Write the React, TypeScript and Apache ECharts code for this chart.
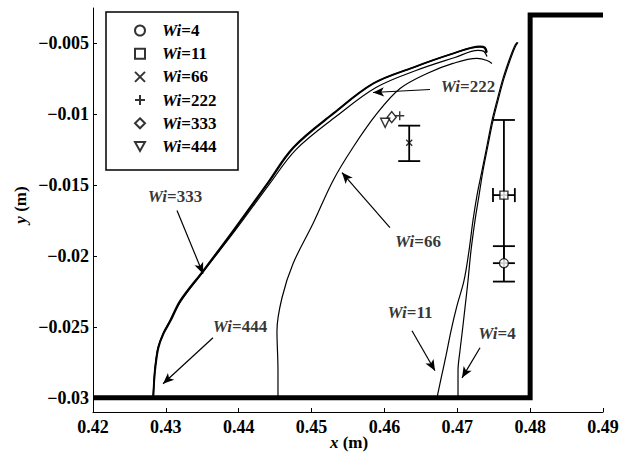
import { useEffect, useRef } from "react";
import * as echarts from "echarts";

const FONT = "Liberation Serif";
const FS = 17;
const TICK_FS = 18;
const FW = "bold";

// Interface profiles, [x (m), y (m)]
const wi444Curve = [
  [0.42824, -0.03], [0.42837, -0.0288], [0.42851, -0.02788], [0.42892, -0.02647],
  [0.42961, -0.02548], [0.43057, -0.02456], [0.43194, -0.02315], [0.4351, -0.02103],
  [0.43921, -0.01821], [0.44388, -0.01489], [0.44745, -0.01234], [0.45294, -0.00994],
  [0.45843, -0.00782], [0.46392, -0.00669], [0.46941, -0.00571], [0.47312, -0.00521],
  [0.4738, -0.00528], [0.47408, -0.00564],
];
const wi333Curve = [
  [0.4283, -0.03], [0.42842, -0.0288], [0.42858, -0.02788], [0.429, -0.02647],
  [0.4297, -0.02548], [0.43068, -0.02456], [0.43206, -0.02315], [0.43522, -0.02103],
  [0.43934, -0.01821], [0.444, -0.01489], [0.44758, -0.01234], [0.45306, -0.00994],
  [0.45855, -0.00782], [0.464, -0.00669], [0.46945, -0.00571], [0.4731, -0.00524],
  [0.47372, -0.00532], [0.47398, -0.00566],
];
const wi222Curve = [
  [0.42824, -0.03], [0.42837, -0.0288], [0.42851, -0.02788], [0.42892, -0.02647],
  [0.42961, -0.02548], [0.43057, -0.02456], [0.43208, -0.02315], [0.43523, -0.02103],
  [0.43949, -0.01821], [0.44416, -0.01496], [0.44786, -0.01249], [0.45335, -0.01016],
  [0.45884, -0.00811], [0.46433, -0.00691], [0.46968, -0.00599], [0.47284, -0.00549],
  [0.47366, -0.00556], [0.47408, -0.00592],
];
const wi66Curve = [
  [0.44539, -0.03], [0.44539, -0.02809], [0.44525, -0.02527], [0.44594, -0.02294],
  [0.44745, -0.02054], [0.4502, -0.01771], [0.45294, -0.01468], [0.45568, -0.01234],
  [0.45898, -0.00994], [0.46214, -0.00818], [0.46584, -0.00712], [0.46941, -0.00641],
  [0.4727, -0.00606], [0.47408, -0.0062], [0.47476, -0.00641],
];
const wi11Curve = [
  [0.46721, -0.03], [0.46776, -0.02866], [0.46845, -0.02703], [0.46914, -0.02527],
  [0.46996, -0.0235], [0.47092, -0.02174], [0.47161, -0.01962], [0.47215, -0.0175],
  [0.4727, -0.01573], [0.47339, -0.01397], [0.47408, -0.0122], [0.47476, -0.01044],
  [0.47545, -0.00903], [0.47627, -0.00747], [0.47709, -0.0062], [0.47778, -0.00528],
  [0.47819, -0.00493],
];
const wi4Curve = [
  [0.4701, -0.03], [0.4701, -0.02809], [0.47037, -0.02668], [0.47065, -0.02548],
  [0.47106, -0.02364], [0.47147, -0.02174], [0.47188, -0.01962], [0.47243, -0.0175],
  [0.47298, -0.01573], [0.47353, -0.01397], [0.47421, -0.0122], [0.4749, -0.01044],
  [0.47559, -0.00903], [0.47641, -0.00747], [0.47723, -0.0062], [0.47792, -0.00528],
  [0.47833, -0.00493],
];

// Channel floor and step wall
const wallOutline = [[0.42, -0.03], [0.48, -0.03], [0.48, -0.003], [0.49, -0.003]];

// Measured positions with error bounds
const pointNames = ["Wi=4", "Wi=11", "Wi=66", "Wi=222", "Wi=333", "Wi=444"];
const pointX = [0.4764, 0.4764, 0.4634, 0.4621, 0.461, 0.4601];
const pointY = [-0.0205, -0.0157, -0.012, -0.0101, -0.0102, -0.0106];
const yErrLow = [-0.0218, -0.0205, -0.0133, null, null, null];
const yErrHigh = [-0.0193, -0.0104, -0.0108, null, null, null];
const xErrLow = [null, 0.4749, null, null, null, null];
const xErrHigh = [null, 0.4779, null, null, null, null];

// Curve annotations
const noteLabels = ["Wi=222", "Wi=66", "Wi=333", "Wi=444", "Wi=11", "Wi=4"];
const noteText = [
  [0.47147, -0.00804], [0.46461, -0.01898], [0.43125, -0.01581],
  [0.44018, -0.02499], [0.46351, -0.024], [0.47545, -0.02548],
];
const arrowFrom = [
  [0.46625, -0.00825], [0.46076, -0.01799], [0.43153, -0.01679],
  [0.43647, -0.02576], [0.46378, -0.02527], [0.47312, -0.02647],
];
const arrowTo = [
  [0.45843, -0.00846], [0.45417, -0.01411], [0.4351, -0.02124],
  [0.42961, -0.02901], [0.46694, -0.02809], [0.47065, -0.02859],
];

const yTicks = [-0.03, -0.025, -0.02, -0.015, -0.01, -0.005];

const symbols = [
  "circle",
  "rect",
  "path://M0,0L10,10M10,0L0,10",
  "path://M5,0L5,10M0,5L10,5",
  "diamond",
  "path://M0,0L10,0L5,9Z",
];
const symbolSizes: any[] = [9, 8, 6, 9, [9, 11], 9];

const rich = {
  i: { fontFamily: FONT, fontSize: FS, fontWeight: FW, fontStyle: "italic", color: "#000", lineHeight: 17 },
  r: { fontFamily: FONT, fontSize: FS, fontWeight: FW, color: "#000", lineHeight: 17 },
};
const wiText = (name: string) => `{i|Wi}{r|=${name.split("=")[1]}}`;

export default function App() {
  const ref = useRef<HTMLDivElement>(null);

  useEffect(() => {
    if (!ref.current) return;
    const chart = echarts.init(ref.current, undefined, { renderer: "svg" });

    const curveSeries = [
      { name: "curve444", data: wi444Curve, width: 1.6 },
      { name: "curve333", data: wi333Curve, width: 1.6 },
      { name: "curve222", data: wi222Curve, width: 1.2 },
      { name: "curve66", data: wi66Curve, width: 1.2 },
      { name: "curve11", data: wi11Curve, width: 1.2 },
      { name: "curve4", data: wi4Curve, width: 1.2 },
    ].map((c) => ({
      type: "line",
      name: c.name,
      data: c.data,
      showSymbol: false,
      symbol: "none",
      smooth: 0.35,
      lineStyle: { color: "#000", width: c.width },
      silent: true,
      z: 3,
    }));

    const pointSeries = pointNames.map((name, i) => ({
      type: "scatter",
      name,
      data: [[pointX[i], pointY[i]]],
      symbol: symbols[i],
      symbolSize: symbolSizes[i],
      itemStyle: { color: "#fff", borderColor: "#000", borderWidth: 1.4 },
      silent: true,
      z: 6,
    }));

    const yErrData = pointNames
      .map((_, i) => [pointX[i], yErrLow[i], yErrHigh[i]])
      .filter((d) => d[1] !== null);
    const xErrData = pointNames
      .map((_, i) => [pointY[i], xErrLow[i], xErrHigh[i]])
      .filter((d) => d[1] !== null);

    const barStyle = { stroke: "#000", lineWidth: 1.8 };

    const option: any = {
      animation: false,
      backgroundColor: "#fff",
      textStyle: { fontFamily: FONT },
      grid: { left: 93, right: 21, top: 8, bottom: 41 },
      xAxis: {
        type: "value",
        min: 0.42,
        max: 0.49,
        interval: 0.01,
        axisLine: { show: true, lineStyle: { color: "#000", width: 1 } },
        axisTick: { show: true, inside: true, length: 4, lineStyle: { color: "#000" } },
        axisLabel: {
          color: "#000",
          fontFamily: FONT,
          fontSize: TICK_FS,
          fontWeight: FW,
          margin: 6,
          formatter: (v: number) => v.toFixed(2),
        },
        splitLine: { show: false },
      },
      yAxis: {
        type: "value",
        min: -0.031,
        max: -0.0025,
        axisLine: { show: true, lineStyle: { color: "#000", width: 1 } },
        axisTick: {
          show: true,
          inside: true,
          length: 4,
          customValues: yTicks,
          lineStyle: { color: "#000" },
        },
        axisLabel: {
          color: "#000",
          fontFamily: FONT,
          fontSize: TICK_FS,
          fontWeight: FW,
          margin: 4,
          customValues: yTicks,
          formatter: (v: number) => String(v).replace("-", "\u2212"),
        },
        splitLine: { show: false },
      },
      legend: {
        data: pointNames,
        orient: "vertical",
        left: 134,
        top: 22,
        itemWidth: 10,
        itemHeight: 10,
        itemGap: 6.2,
        padding: 0,
        selectedMode: false,
        formatter: wiText,
        textStyle: {
          fontFamily: FONT,
          fontSize: FS,
          lineHeight: 17,
          color: "#000",
          padding: [0, 0, 0, 12],
          rich,
        },
      },
      graphic: [
        {
          type: "rect",
          shape: { x: 106, y: 12, width: 132, height: 158 },
          style: { fill: "none", stroke: "#000", lineWidth: 1.5 },
          z: 10,
        },
        {
          type: "text",
          x: 349,
          y: 442,
          style: {
            text: "{i|x}{r| (m)}",
            rich,
            align: "center",
            verticalAlign: "middle",
          },
        },
        {
          type: "text",
          x: 20,
          y: 205,
          rotation: Math.PI / 2,
          style: {
            text: "{i|y}{r| (m)}",
            rich,
            align: "center",
            verticalAlign: "middle",
          },
        },
      ],
      series: [
        ...curveSeries,
        {
          type: "line",
          name: "wall",
          data: wallOutline,
          showSymbol: false,
          symbol: "none",
          lineStyle: { color: "#000", width: 5, join: "miter" },
          silent: true,
          z: 4,
        },
        {
          type: "custom",
          name: "yerr",
          data: yErrData,
          encode: { x: 0, y: [1, 2] },
          silent: true,
          z: 5,
          renderItem: (_p: any, api: any) => {
            const x = api.value(0);
            const lo = api.coord([x, api.value(1)]);
            const hi = api.coord([x, api.value(2)]);
            const cap = 11;
            return {
              type: "group",
              children: [
                { type: "line", shape: { x1: lo[0], y1: lo[1], x2: hi[0], y2: hi[1] }, style: barStyle },
                { type: "line", shape: { x1: lo[0] - cap, y1: lo[1], x2: lo[0] + cap, y2: lo[1] }, style: barStyle },
                { type: "line", shape: { x1: hi[0] - cap, y1: hi[1], x2: hi[0] + cap, y2: hi[1] }, style: barStyle },
              ],
            };
          },
        },
        {
          type: "custom",
          name: "xerr",
          data: xErrData,
          encode: { y: 0, x: [1, 2] },
          silent: true,
          z: 5,
          renderItem: (_p: any, api: any) => {
            const y = api.value(0);
            const lo = api.coord([api.value(1), y]);
            const hi = api.coord([api.value(2), y]);
            const cap = 7;
            return {
              type: "group",
              children: [
                { type: "line", shape: { x1: lo[0], y1: lo[1], x2: hi[0], y2: hi[1] }, style: barStyle },
                { type: "line", shape: { x1: lo[0], y1: lo[1] - cap, x2: lo[0], y2: lo[1] + cap }, style: barStyle },
                { type: "line", shape: { x1: hi[0], y1: hi[1] - cap, x2: hi[0], y2: hi[1] + cap }, style: barStyle },
              ],
            };
          },
        },
        ...pointSeries,
        {
          type: "scatter",
          name: "notes",
          data: noteLabels.map((n, i) => ({ name: n, value: noteText[i] })),
          symbolSize: 1,
          itemStyle: { color: "rgba(0,0,0,0)" },
          silent: true,
          z: 7,
          label: {
            show: true,
            position: "inside",
            color: "#000",
            formatter: (p: any) => wiText(p.name),
            rich,
          },
          markLine: {
            silent: true,
            symbol: ["none", "arrow"],
            symbolSize: [7, 11],
            label: { show: false },
            lineStyle: { color: "#000", width: 1.2, type: "solid" },
            emphasis: { disabled: true },
            data: arrowFrom.map((f, i) => [{ coord: f }, { coord: arrowTo[i] }]),
          },
        },
      ],
    };

    chart.setOption(option);
    return () => chart.dispose();
  }, []);

  return <div ref={ref} style={{ width: 624, height: 453, position: "absolute", left: 0, top: 0 }} />;
}
